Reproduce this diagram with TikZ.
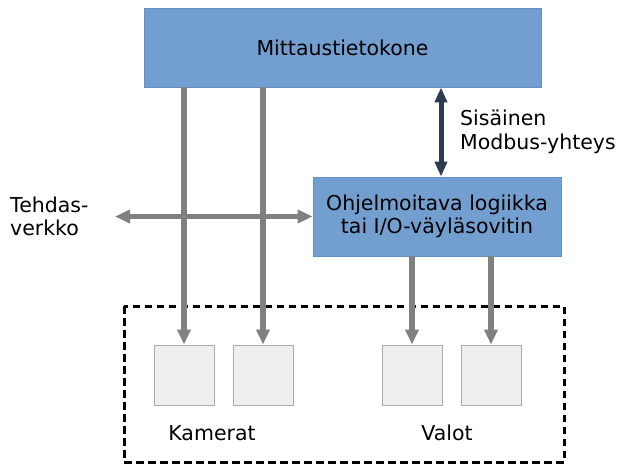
\documentclass[tikz,border=0pt]{standalone}
\usepackage{fontspec}
\setmainfont{DejaVu Sans}
\usetikzlibrary{arrows.meta,calc}
\definecolor{boxblue}{HTML}{729FCF}
\definecolor{boxedge}{HTML}{6690C4}
\definecolor{wire}{HTML}{808080}
\definecolor{bus}{HTML}{2C3D52}
\definecolor{devfill}{HTML}{EEEEEE}
\definecolor{devedge}{HTML}{AAAAAA}
\tikzset{
  unit/.style={fill=boxblue, draw=boxedge, line width=0.8pt, align=center,
    inner sep=0pt, font=\fontsize{20.5}{23.5}\selectfont},
  device/.style={fill=devfill, draw=devedge, line width=1pt,
    minimum width=60pt, minimum height=60pt, inner sep=0pt},
  label/.style={font=\fontsize{20.5}{23.5}\selectfont, inner sep=0pt},
  wirearrow/.style={draw=wire, line width=5.5pt,
    -{Triangle[width=13pt,length=15pt]}},
  busarrow/.style={draw=bus, line width=5pt,
    {Triangle[width=12pt,length=15pt]}-{Triangle[width=12pt,length=15pt]}},
  group/.style={draw=black, line width=3pt, dash pattern=on 7.5pt off 4.5pt}
}
\begin{document}
\begin{tikzpicture}[x=1pt,y=-1pt]
  \useasboundingbox (0,0) rectangle (619,464);

  % grouping frame around the field devices
  \draw[group] (124,306) rectangle (564,462);

  % main units
  \node[unit, minimum width=397pt, minimum height=79pt] (pc) at (342.5,47.5) {Mittaustietokone};
  \node[unit, minimum width=248pt, minimum height=79pt] (plc) at (437,216.5)
    {Ohjelmoitava logiikka\\tai I/O-väyläsovitin};

  % cameras and lights
  \node[device] (cam1) at (184,375) {};
  \node[device] (cam2) at (263,375) {};
  \node[device] (lamp1) at (412,375) {};
  \node[device] (lamp2) at (491,375) {};

  \node[label] (cams) at (212,433) {Kamerat};
  \node[label] (lamps) at (447,433) {Valot};

  % factory network
  \coordinate (net) at (115,216.5);
  \node[label, anchor=west, align=left] (netlbl) at (10,216.5) {Tehdas-\\verkko};
  \draw[draw=wire, line width=5.5pt,
    {Triangle[width=13pt,length=15pt]}-{Triangle[width=13pt,length=15pt]}]
    (net) -- (plc.west);

  % camera links from the computer
  \draw[wirearrow] (pc.south -| cam1) -- (cam1.north);
  \draw[wirearrow] (pc.south -| cam2) -- (cam2.north);

  % light links from the logic unit
  \draw[wirearrow] (plc.south -| lamp1) -- (lamp1.north);
  \draw[wirearrow] (plc.south -| lamp2) -- (lamp2.north);

  % internal Modbus link
  \coordinate (bx) at (441,0);
  \draw[busarrow] (pc.south -| bx) -- (plc.north -| bx);
  \node[label, anchor=west, align=left] (modbus) at (460,132)
    {Sisäinen\\Modbus-yhteys};
\end{tikzpicture}
\end{document}
